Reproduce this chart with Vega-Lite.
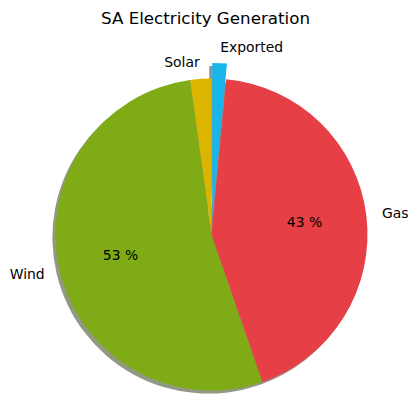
{
  "$schema": "https://vega.github.io/schema/vega-lite/v6.json",
  "width": 415,
  "height": 359,
  "autosize": {"type": "none"},
  "padding": {"top": 55, "left": 4, "right": 0, "bottom": 0},
  "title": {
    "text": "SA Electricity Generation",
    "font": "DejaVu Sans",
    "fontSize": 16.7,
    "fontWeight": "normal",
    "color": "#000000",
    "offset": 13,
    "dx": -6
  },
  "data": {
    "values": [
      {"i": 1, "Source": "Solar", "value": 2.2, "pct": ""},
      {"i": 2, "Source": "Wind", "value": 53.1, "pct": "53 %"},
      {"i": 3, "Source": "Gas", "value": 43.2, "pct": "43 %"},
      {"i": 4, "Source": "Exported", "value": 1.5, "pct": ""}
    ]
  },
  "encoding": {
    "theta": {"field": "value", "type": "quantitative", "stack": true},
    "order": {"field": "i", "sort": "descending"}
  },
  "layer": [
    {
      "mark": {"type": "arc", "radius": 156, "xOffset": -3.1, "yOffset": 3.1},
      "encoding": {
        "color": {
          "field": "Source", "type": "nominal", "legend": null,
          "scale": {"domain": ["Solar", "Wind", "Gas", "Exported"], "range": ["#423600", "#263307", "#451315", "#073646"]}
        },
        "opacity": {"condition": {"test": "datum.Source === 'Exported'", "value": 0}, "value": 0.5}
      }
    },
    {
      "mark": {"type": "arc", "radius": 156, "xOffset": -2.3, "yOffset": -12.5},
      "encoding": {
        "color": {
          "field": "Source", "type": "nominal", "legend": null,
          "scale": {"domain": ["Solar", "Wind", "Gas", "Exported"], "range": ["#423600", "#263307", "#451315", "#073646"]}
        },
        "opacity": {"condition": {"test": "datum.Source === 'Exported'", "value": 0.5}, "value": 0}
      }
    },
    {
      "mark": {"type": "arc", "radius": 156},
      "encoding": {
        "color": {
          "field": "Source", "type": "nominal", "legend": null,
          "scale": {"domain": ["Solar", "Wind", "Gas", "Exported"], "range": ["#DBB500", "#7FAB16", "#E63F45", "#17B5E9"]}
        },
        "opacity": {"condition": {"test": "datum.Source === 'Exported'", "value": 0}, "value": 1}
      }
    },
    {
      "mark": {"type": "arc", "radius": 156, "xOffset": 0.8, "yOffset": -15.6},
      "encoding": {
        "color": {
          "field": "Source", "type": "nominal", "legend": null,
          "scale": {"domain": ["Solar", "Wind", "Gas", "Exported"], "range": ["#DBB500", "#7FAB16", "#E63F45", "#17B5E9"]}
        },
        "opacity": {"condition": {"test": "datum.Source === 'Exported'", "value": 1}, "value": 0}
      }
    },
    {
      "mark": {"type": "text", "radius": 171.6, "align": "right", "baseline": "middle", "font": "DejaVu Sans", "fontSize": 13.9, "color": "#000000"},
      "encoding": {
        "text": {"condition": {"test": "datum.Source === 'Solar' || datum.Source === 'Wind'", "field": "Source"}, "value": ""}
      }
    },
    {
      "mark": {"type": "text", "radius": 171.6, "align": "left", "baseline": "middle", "font": "DejaVu Sans", "fontSize": 13.9, "color": "#000000"},
      "encoding": {
        "text": {"condition": {"test": "datum.Source === 'Gas'", "field": "Source"}, "value": ""}
      }
    },
    {
      "mark": {"type": "text", "radius": 187, "align": "left", "baseline": "middle", "font": "DejaVu Sans", "fontSize": 13.9, "color": "#000000"},
      "encoding": {
        "text": {"condition": {"test": "datum.Source === 'Exported'", "field": "Source"}, "value": ""}
      }
    },
    {
      "mark": {"type": "text", "radius": 93.6, "align": "center", "baseline": "middle", "font": "DejaVu Sans", "fontSize": 13.9, "color": "#000000"},
      "encoding": {
        "text": {"field": "pct", "type": "nominal"}
      }
    }
  ],
  "resolve": {"scale": {"color": "independent"}},
  "config": {"view": {"stroke": null}}
}
